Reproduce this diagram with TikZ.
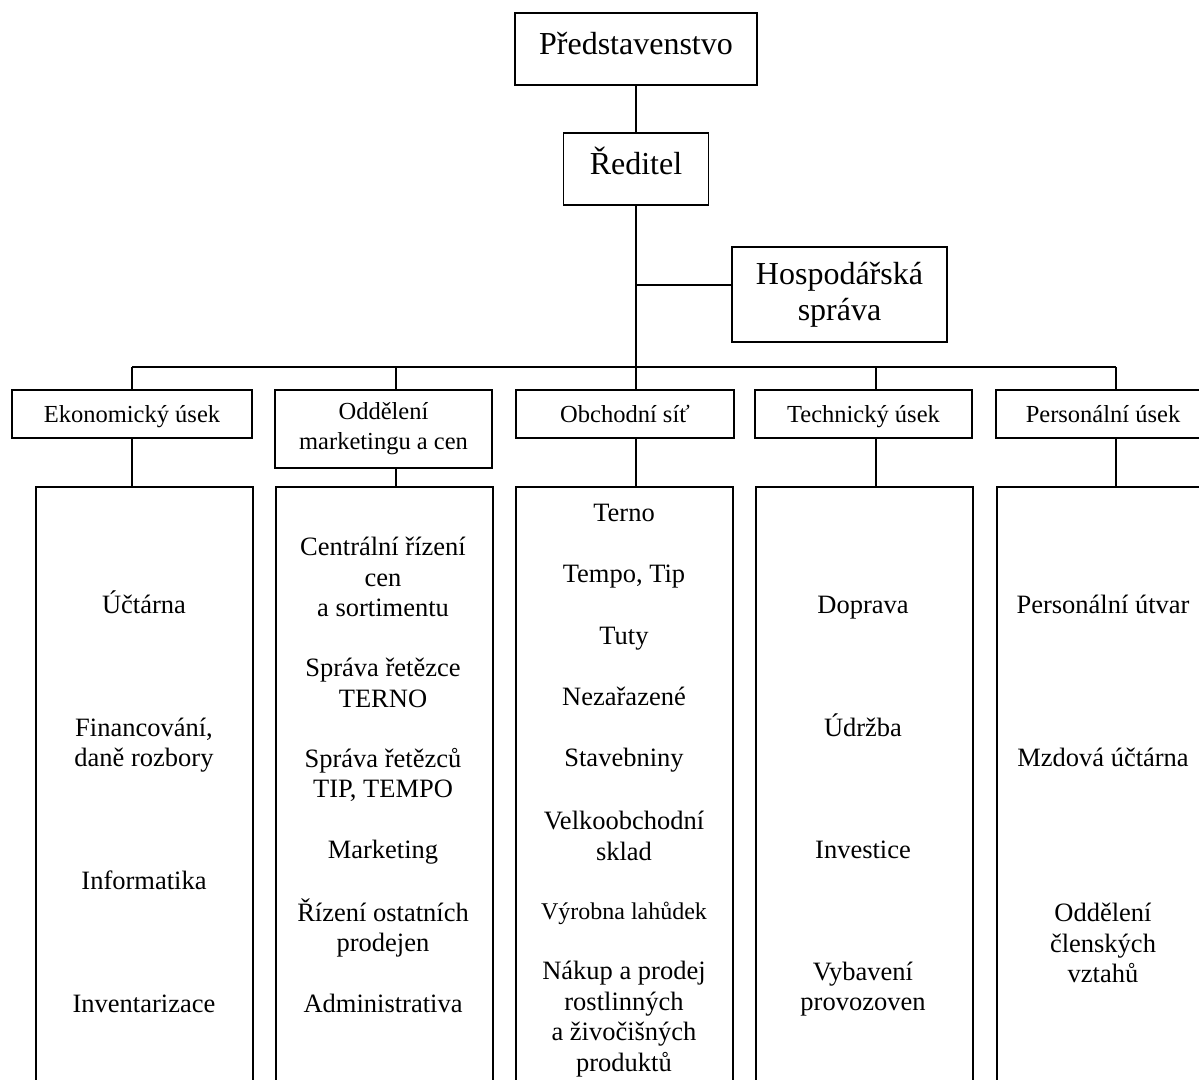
\documentclass[tikz,border=0pt]{standalone}
\usepackage{fontspec}
\setmainfont{Liberation Serif}

\begin{document}
\begin{tikzpicture}[x=0.5pt, y=-0.5pt, line width=0.9pt,
  box/.style={draw, inner sep=0pt, align=center},
  one/.style={text height=0.9em, text depth=0.05em},
  big/.style={font=\fontsize{16}{18}\selectfont},
  head/.style={font=\fontsize{12.25}{15}\selectfont},
  item/.style={inner sep=0pt, align=center, font=\fontsize{13.25}{15.25}\selectfont},
  small/.style={inner sep=0pt, align=center, font=\fontsize{12}{15}\selectfont}]

\useasboundingbox (0,0) rectangle (1199,1080);
\clip (0,0) rectangle (1199,1080);

\node (pred) at (636,49) [box, big, text height=0.8em, text depth=0.2em, minimum width=121pt, minimum height=36pt] {Představenstvo};
\node (red) at (636,169) [box, big, text height=0.8em, text depth=0.2em, minimum width=72.5pt, minimum height=36pt] {Ředitel};
\node (hosp) at (839.5,294.5) [box, big, minimum width=107.5pt, minimum height=47.5pt] {Hospodářská\\správa};

\node (eko) at (132,414) [box, head, one, minimum width=120pt, minimum height=24pt] {Ekonomický úsek};
\node (odd) at (383.5,429) [box, head, minimum width=108.5pt, minimum height=39pt] {Oddělení\\marketingu a cen};
\node (obch) at (625,414) [box, head, one, minimum width=109pt, minimum height=24pt] {Obchodní síť};
\node (tech) at (863.5,414) [box, head, one, minimum width=108.5pt, minimum height=24pt] {Technický úsek};
\node (pers) at (1103,414) [box, head, one, minimum width=107pt, minimum height=24pt] {Personální úsek};

\node (b1) at (144.5,800) [box, minimum width=108.5pt, minimum height=313pt] {};
\node (b2) at (384.5,800) [box, minimum width=108.5pt, minimum height=313pt] {};
\node (b3) at (624.5,800) [box, minimum width=108.5pt, minimum height=313pt] {};
\node (b4) at (864.5,800) [box, minimum width=108.5pt, minimum height=313pt] {};
\node (b5) at (1105.5,800) [box, minimum width=108.5pt, minimum height=313pt] {};

\coordinate (j1) at (132,367);
\coordinate (j2) at (396,367);
\coordinate (j3) at (636,367);
\coordinate (j4) at (876,367);
\coordinate (j5) at (1116,367);
\coordinate (hj) at (636,285);

\draw (pred.south) -- (red.north);
\draw (red.south) -- (j3);
\draw (hj) -- (hj -| hosp.west);
\draw (j1) -- (j5);

\draw (j1) -- (j1 |- eko.north);
\draw (j2) -- (j2 |- odd.north);
\draw (j3) -- (j3 |- obch.north);
\draw (j4) -- (j4 |- tech.north);
\draw (j5) -- (j5 |- pers.north);
\draw (eko.south -| j1) -- (j1 |- b1.north);
\draw (odd.south -| j2) -- (j2 |- b2.north);
\draw (obch.south -| j3) -- (j3 |- b3.north);
\draw (tech.south -| j4) -- (j4 |- b4.north);
\draw (pers.south -| j5) -- (j5 |- b5.north);

% ekonomicky usek
\node (eko1) at (144,605) [item, one] {Účtárna};
\node (eko2) at (144,745) [item] {Financování,\\daně rozbory};
\node (eko3) at (144,881) [item, one] {Informatika};
\node (eko4) at (144,1004) [item, one] {Inventarizace};

% marketing a ceny
\node (odd1) at (383,577) [item] {Centrální řízení\\cen\\a sortimentu};
\node (odd2) at (383,683) [item] {Správa řetězce\\TERNO};
\node (odd3) at (383,775) [item] {Správa řetězců\\TIP, TEMPO};
\node (odd4) at (383,850) [item, one] {Marketing};
\node (odd5) at (383,928) [item] {Řízení ostatních\\prodejen};
\node (odd6) at (383,1004) [item, one] {Administrativa};

% obchodni sit
\node (obch1) at (624,513) [item, one] {Terno};
\node (obch2) at (624,574) [item, one] {Tempo, Tip};
\node (obch3) at (624,636) [item, one] {Tuty};
\node (obch4) at (624,697) [item, one] {Nezařazené};
\node (obch5) at (624,758) [item, one] {Stavebniny};
\node (obch6) at (624,836) [item] {Velkoobchodní\\sklad};
\node (obch7) at (624,911) [small, one] {Výrobna lahůdek};
\node (obch8) at (624,1019) [item] {Nákup a prodej\\rostlinných\\a živočišných\\produktů};

% technicky usek
\node (tech1) at (863,605) [item, one] {Doprava};
\node (tech2) at (863,728) [item, one] {Údržba};
\node (tech3) at (863,850) [item, one] {Investice};
\node (tech4) at (863,989) [item] {Vybavení\\provozoven};

% personalni usek
\node (pers1) at (1103,605) [item, one] {Personální útvar};
\node (pers2) at (1103,758) [item, one] {Mzdová účtárna};
\node (pers3) at (1103,943) [item] {Oddělení\\členských\\vztahů};

\end{tikzpicture}
\end{document}
